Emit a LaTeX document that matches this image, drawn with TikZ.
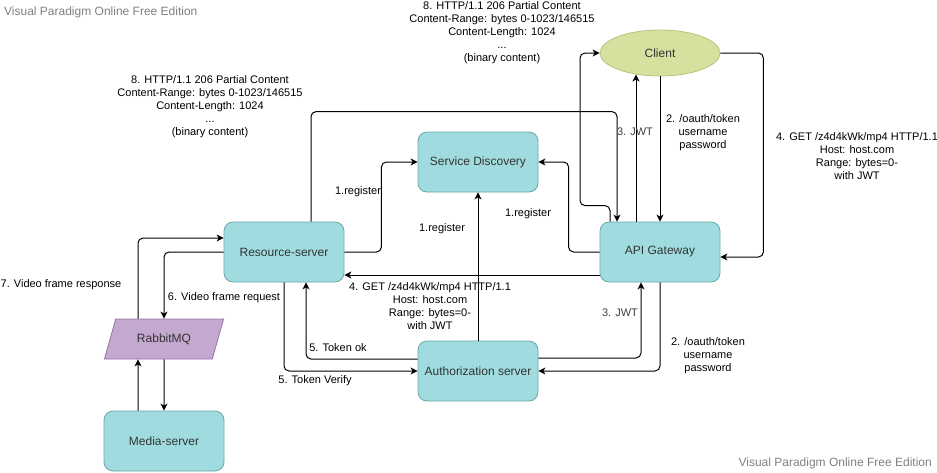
\documentclass[tikz,border=0pt]{standalone}
\usepackage{fontspec}
\setmainfont{Liberation Sans}
\usetikzlibrary{arrows.meta,shapes.geometric}

\definecolor{boxfill}{RGB}{160,220,223}
\definecolor{boxline}{RGB}{108,166,170}
\definecolor{clientfill}{RGB}{214,225,160}
\definecolor{clientline}{RGB}{182,196,124}
\definecolor{mqfill}{RGB}{195,168,208}
\definecolor{mqline}{RGB}{150,115,166}
\definecolor{nodetext}{RGB}{51,51,51}
\definecolor{wmark}{RGB}{128,128,128}

\begin{document}
\begin{tikzpicture}[%
      x=1pt, y=-1pt,
      box/.style={draw=boxline, fill=boxfill, rounded corners=9pt, line width=0.8pt,
        minimum width=120pt, minimum height=60pt, inner sep=0pt,
        text=nodetext, font=\fontsize{12}{14}\selectfont},
      client/.style={ellipse, draw=clientline, fill=clientfill, line width=0.8pt,
        minimum width=120pt, minimum height=46pt, inner sep=0pt,
        text=nodetext, font=\fontsize{12}{14}\selectfont},
      queue/.style={trapezium, trapezium left angle=60, trapezium right angle=120,
        trapezium stretches=true, draw=mqline, fill=mqfill, line width=0.8pt,
        minimum width=120pt, minimum height=40pt, inner sep=0pt,
        text=nodetext, font=\fontsize{12}{14}\selectfont},
      flow/.style={draw=black, line width=1pt, rounded corners=5pt,
        -{Stealth[length=7pt,width=7pt,inset=2pt]}},
      lbl/.style={font=\fontsize{11}{13}\selectfont, align=center, inner sep=0pt},
      wm/.style={text=wmark, font=\fontsize{12}{14}\selectfont, inner sep=0pt},
      ]
      \useasboundingbox (0,0) rectangle (937,472);

      % watermarks
      \node [wm, anchor=west] (wmtop) at (4,12) {Visual Paradigm Online Free Edition};
      \node [wm, anchor=east] (wmbottom) at (932,463) {Visual Paradigm Online Free Edition};

      % components
      \node [client] (client) at (660,53) {Client};
      \node [box] (discovery) at (478,162) {Service Discovery};
      \node [box] (resource) at (284,252) {Resource-server};
      \node [box] (gateway) at (660,252) {API Gateway};
      \node [box] (auth) at (478,371) {Authorization server};
      \node [queue] (rabbit) at (164,339) {RabbitMQ};
      \node [box] (media) at (164,441) {Media-server};

      % registration
      \draw [flow] (resource.east) -- ++(37,0) |- (discovery.west);
      \draw [flow] (gateway.west) -- ++(-31,0) |- (discovery.east);
      \draw [flow] (auth.north) -- (discovery.south);

      % login
      \draw [flow] (client.south) -- (gateway.north);
      \draw [flow] ([xshift=-24pt]gateway.north) -- ([xshift=-24pt]gateway.north |- client.222);
      \draw [flow] (gateway.south) |- (auth.east);
      \draw [flow] ([yshift=13pt]auth.east) -| ([xshift=-19pt]gateway.south);

      % request
      \draw [flow] (client.east) -- ++(43,0) |- ([yshift=-5pt]gateway.east);
      \draw [flow] ([yshift=-23pt]gateway.west) -- ([yshift=-23pt]resource.east);
      \draw [flow] (resource.south) |- (auth.west);
      \draw [flow] ([yshift=12pt]auth.west) -| ([xshift=22pt]resource.south);
      \draw [flow] (resource.west) -| (rabbit.north);
      \draw [flow] ([xshift=-26pt]rabbit.north) |- ([yshift=14pt]resource.west);
      \draw [flow] (rabbit.south) -- (media.north);
      \draw [flow] ([xshift=-26pt]media.north) -- ([xshift=-26pt]rabbit.south);

      % response
      \draw [flow] ([xshift=27pt]resource.north) -- ++(0,-110) -| ([xshift=-43pt]gateway.north);
      \draw [flow] ([xshift=-50pt]gateway.north) -- ++(0,-16) -- ++(-30,0) |- (client.west);

      % labels
      \node [lbl] (regres) at (358,192) {1.register};
      \node [lbl] (reggate) at (528,214) {1.register};
      \node [lbl] (regauth) at (442,229) {1.register};
      \node [lbl] (tokentop) at (703,133) {2. /oauth/token\\username\\password};
      \node [lbl, text=black!75] (jwttop) at (635,132) {3. JWT};
      \node [lbl] (getright) at (857,156) {4. GET /z4d4kWk/mp4 HTTP/1.1\\Host: host.com\\Range: bytes=0-\\with JWT};
      \node [lbl] (getmid) at (430,306) {4. GET /z4d4kWk/mp4 HTTP/1.1\\Host: host.com\\Range: bytes=0-\\with JWT};
      \node [lbl, text=black!75] (jwtbottom) at (620,313) {3. JWT};
      \node [lbl] (tokenbottom) at (708,356) {2. /oauth/token\\username\\password};
      \node [lbl] (verify) at (315,381) {5. Token Verify};
      \node [lbl] (tokenok) at (338,348) {5. Token ok};
      \node [lbl] (framereq) at (224,298) {6. Video frame request};
      \node [lbl] (frameresp) at (61,285) {7. Video frame response};
      \node [lbl] (partialtop) at (502,33) {8. HTTP/1.1 206 Partial Content\\Content-Range: bytes 0-1023/146515\\Content-Length: 1024\\...\\(binary content)};
      \node [lbl] (partialleft) at (210,107) {8. HTTP/1.1 206 Partial Content\\Content-Range: bytes 0-1023/146515\\Content-Length: 1024\\...\\(binary content)};
\end{tikzpicture}
\end{document}
